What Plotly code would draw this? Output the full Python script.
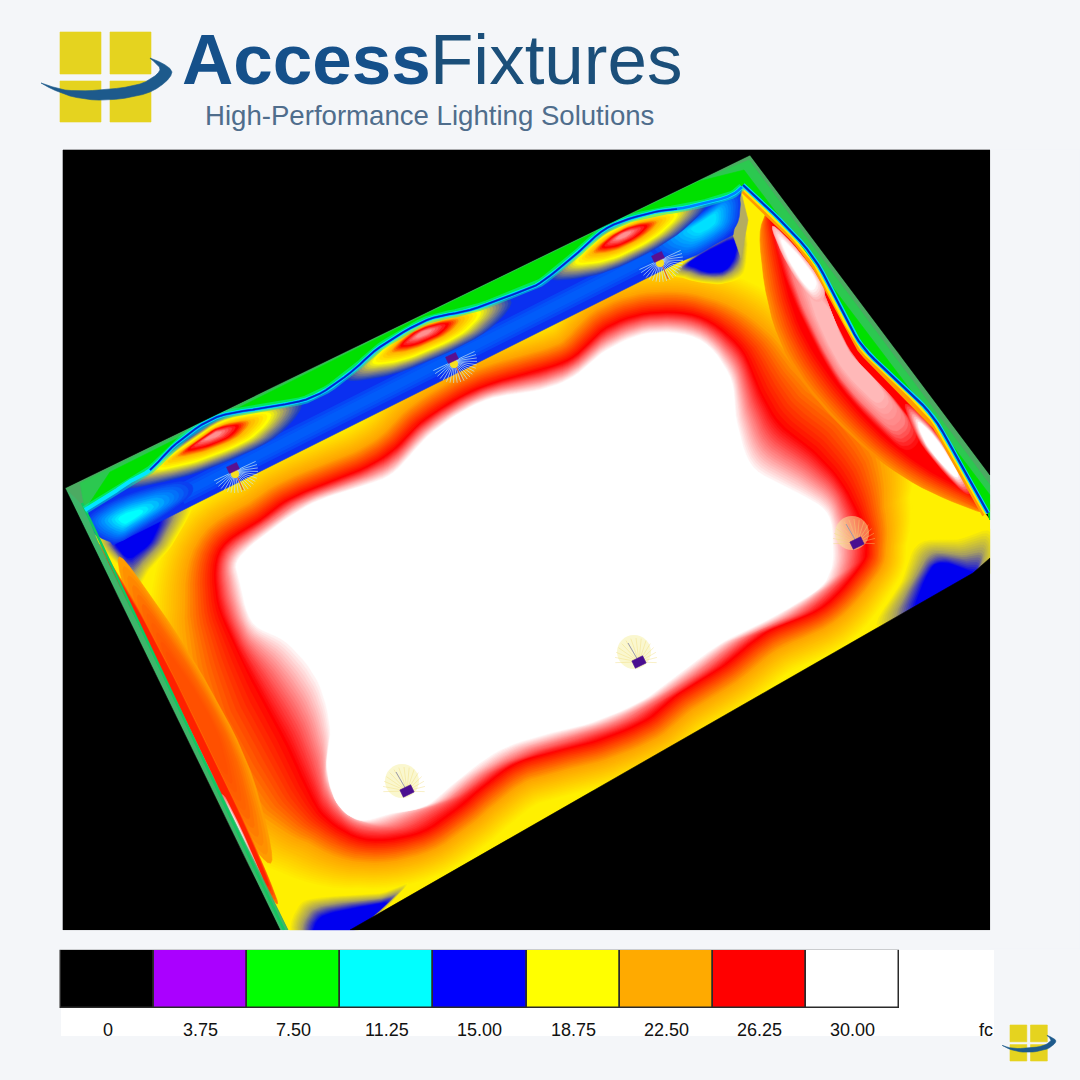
import numpy as np
import plotly.graph_objects as go

# ---- legend data
legend_values = [0, 3.75, 7.50, 11.25, 15.00, 18.75, 22.50, 26.25, 30.00]
legend_labels = ["0", "3.75", "7.50", "11.25", "15.00", "18.75", "22.50", "26.25", "30.00"]
legend_colors = ["#000000", "#aa00ff", "#00ff00", "#00ffff", "#0000ff", "#ffff00", "#ffaa00", "#ff0000", "#ffffff"]
legend_unit = "fc"

# ---- isolux contours (image pixel coordinates)
red_contour = [(217,600),(220,550),(260,520),(293,497),(360,470),(393,450),(420,423),(460,397),(493,383),(540,370),
               (573,357),(607,327),(650,313),(700,317),(740,347),(760,390),(780,423),(813,450),(840,480),(860,517),
               (867,547),(860,567),(823,607),(767,632),(725,665),(680,693),(647,720),(600,740),(560,750),(517,763),
               (483,787),(460,807),(420,833),(367,840),(327,820),(307,790),(287,747),(260,697),(237,650)]
white_contour = [(240,583),(238,560),(267,533),(313,503),(360,487),(393,473),(427,437),(460,413),(493,398),(540,390),
                 (573,377),(607,350),(650,333),(700,340),(730,377),(737,423),(753,467),(793,490),(827,513),(833,550),
                 (830,572),(817,590),(773,617),(723,642),(680,673),(643,700),(593,722),(543,735),(500,750),(460,778),
                 (427,805),(393,813),(360,820),(337,803),(327,767),(330,727),(317,680),(287,643),(253,623)]
orange_gap = [35,25,22,20,20,20,20,20,20,20,20,22,22,22,32,50,60,60,50,28,20,20,20,22,22,22,22,22,22,22,22,22,22,24,32,58,70,70,55]
yellow_gap = [70,52,48,45,45,45,45,42,42,42,42,45,48,50,65,110,130,130,95,55,40,40,45,47,47,47,47,47,47,47,47,47,47,50,72,105,150,150,115]

floor_outline = [(87,520),(113,545),(733,235),(741,192),(743,185),(990,520),(990,558),(973,573),(350,930),(288,930),(97,540)]
back_wave = [(85,510),(110,495),(127,483),(150,470),(177,443),(217,417),(270,407),(313,397),(350,373),(380,347),
             (427,320),(470,310),(517,293),(540,283),(573,257),(607,228),(650,213),(683,208),(727,197),(742,187)]
right_wave = [(743,185),(773,213),(813,257),(840,307),(863,347),(900,383),(933,417),(960,463),(988,513)]
lobes = [
    [(153,470),(185,445),(225,420),(273,412),(255,437),(210,458),(175,468)],
    [(370,363),(400,335),(440,317),(483,310),(465,333),(420,355),(390,364)],
    [(573,263),(600,238),(640,218),(680,212),(660,235),(620,257),(590,265)],
]
lobe_hot = [(213,435),(423,333),(623,235)]

fixtures_wall = [(233,468),(452,358),(658,257)]
fixtures_floor = [(857,543),(639,662),(407,791)]

PAGE = "#f4f6f9"
fig = go.Figure()


def catmull(pts, closed=True, n=6):
    p = np.array(pts, float)
    if closed:
        q = np.vstack([p[-1], p, p[0], p[1]])
    else:
        q = np.vstack([p[0], p, p[-1]])
    out = []
    for i in range(1, len(q) - 2):
        for t in np.linspace(0, 1, n, endpoint=False):
            a, b, c, d = q[i-1], q[i], q[i+1], q[i+2]
            out.append(0.5*((2*b)+(-a+c)*t+(2*a-5*b+4*c-d)*t*t+(-a+3*b-3*c+d)*t**3))
    if not closed:
        out.append(p[-1])
    return np.array(out)


def hex2(c):
    c = c.lstrip("#")
    return np.array([int(c[i:i+2], 16) for i in (0, 2, 4)], float)


def mix(a, b, t):
    v = hex2(a)*(1-t)+hex2(b)*t
    return "rgb(%d,%d,%d)" % tuple(v)


def poly(pts, color, lw=0.6):
    p = np.asarray(pts, float)
    x = list(p[:, 0])+[p[0, 0]]
    y = list(p[:, 1])+[p[0, 1]]
    fig.add_trace(go.Scatter(x=x, y=y, mode="lines", fill="toself", fillcolor=color,
                             line=dict(color=color, width=lw), hoverinfo="skip", showlegend=False))


def stroke(pts, color, w):
    p = np.asarray(pts, float)
    fig.add_trace(go.Scatter(x=p[:, 0], y=p[:, 1], mode="lines", line=dict(color=color, width=w),
                             hoverinfo="skip", showlegend=False))


def tween(a, b, c0, c1, steps):
    for t in np.linspace(0, 1, steps):
        poly(a*(1-t)+b*t, mix(c0, c1, t))


def soft(pts, stops, center=None):
    p = catmull(pts)
    c = p.mean(axis=0) if center is None else np.array(center, float)
    for s, col in stops:
        poly(c+(p-c)*s, col)


def gradient_stops(colors, scales, per=3):
    out = []
    for i in range(len(colors)-1):
        for t in np.linspace(0, 1, per, endpoint=False):
            out.append((scales[i]*(1-t)+scales[i+1]*t, mix(colors[i], colors[i+1], t)))
    out.append((scales[-1], colors[-1]))
    return out


def rotated_rect(cx, cy, w, h, deg):
    a = np.radians(deg)
    u = np.array([np.cos(a), np.sin(a)])
    v = np.array([-np.sin(a), np.cos(a)])
    c = np.array([cx, cy], float)
    return [c-u*w/2-v*h/2, c+u*w/2-v*h/2, c+u*w/2+v*h/2, c-u*w/2+v*h/2]


# ---- floor
poly(floor_outline, "#fff000")
R = catmull(red_contour)
W = catmull(white_contour)
n = len(R)
ti = np.arange(n)/n*len(red_contour)
idx = np.arange(len(red_contour)+1)
og = np.interp(ti, idx, orange_gap+orange_gap[:1])
yg = np.interp(ti, idx, yellow_gap+yellow_gap[:1])
tan = np.roll(R, -2, axis=0)-np.roll(R, 2, axis=0)
tan /= np.linalg.norm(tan, axis=1, keepdims=True)
nor = np.c_[tan[:, 1], -tan[:, 0]]
O = R+nor*og[:, None]
Y = R+nor*yg[:, None]
tween(Y, O, "#fff000", "#ffa500", 16)
tween(O, R, "#ffa500", "#ff0000", 14)
tween(R, W, "#ff0000", "#ffffff", 22)

# ---- floor corner patches
patches = [
    ([(100,530),(190,495),(175,540),(150,570),(137,590),(122,570)], [(118,540),(158,518),(152,540),(140,552),(130,558),(122,553)]),
    ([(675,270),(740,225),(745,270),(725,283),(700,282),(685,278)], [(690,262),(732,240),(735,255),(725,270),(708,272),(697,268)]),
    ([(878,628),(900,583),(917,543),(957,538),(992,530),(985,580)], [(915,612),(930,570),(945,563),(965,570),(975,575),(950,595)]),
    ([(293,935),(298,905),(320,897),(380,893),(407,885),(350,935)], [(315,935),(320,918),(345,910),(375,905),(385,905),(345,935)]),
]
for outer, inner in patches:
    a, b = catmull(outer), catmull(inner)
    m = a*0.5+b*0.5
    tween(a, m, "#fff000", "#a8a060", 9)
    tween(m, b, "#a8a060", "#0000f0", 10)
poly([(741,192),(733,235),(741,258),(748,220)], "#b4ac60")

# ---- right wall
rw = catmull(right_wave, closed=False)
red_edge = catmull([(768,208),(773,227),(793,310),(823,367),(873,427),(923,467),(970,493),(985,512)], closed=False)
orange_edge = catmull([(768,208),(760,240),(772,318),(803,382),(858,442),(912,482),(968,508),(985,512)], closed=False)
edge_poly = np.vstack([red_edge, rw[::-1]])
tween(np.vstack([orange_edge, rw[::-1]]), edge_poly, "#ff8c00", "#ff0000", 10)
pink_band = [(778,235),(815,275),(832,315),(855,358),(892,397),(915,430),(905,445),(885,432),(840,383),(805,320),(785,270)]
soft(pink_band, gradient_stops(["#ff1010", "#ff8080", "#ffb8b8"], [1.05, 0.85, 0.55], 5))
soft([(777,233),(800,255),(820,285),(812,295),(790,265)], gradient_stops(["#ffb0b0", "#ffffff"], [1.2, 0.8], 5))
soft([(913,415),(935,435),(962,478),(955,480),(925,445)], gradient_stops(["#ff3030", "#ffffff"], [1.3, 0.8], 7))
stroke(rw, "#ff9a00", 13)
stroke(rw, "#ffe800", 8)

# ---- left wall
soft([(118,560),(150,595),(205,680),(250,770),(272,860),(245,835),(195,750),(150,670)],
     gradient_stops(["#ff9c00", "#ff6800", "#ff5000"], [1.0, 0.7, 0.4], 5))
soft([(100,546),(129,607),(165,680),(200,752),(238,830),(267,890),(277,900),(250,835),(212,755),(178,685),(140,612),(112,565)],
     gradient_stops(["#ff7000", "#ff2000"], [1.0, 0.9], 4), center=(186,725))
soft([(145,640),(200,750),(215,785),(205,775),(150,660)], gradient_stops(["#ff3030", "#ffa0a0"], [1.2, 0.8], 4))
soft([(228,805),(258,870),(252,870),(226,820)], gradient_stops(["#ff8080", "#ffffff"], [1.2, 0.8], 4))
soft([(118,590),(140,630),(135,630),(115,590)], gradient_stops(["#ff8080", "#ffffff"], [1.2, 0.8], 4))

# ---- back wall
bw = catmull(back_wave, closed=False)
poly(np.vstack([bw, [[733,235],[113,545],[85,510]]]), "#0a30f0")
for w in (20, 14, 8):
    stroke([(180,495),(420,373),(700,232)], "rgba(0,110,255,0.35)", w)
soft([(90,522),(120,500),(175,485),(185,497),(145,525),(115,540)],
     gradient_stops(["#0a40f0", "#0090ff", "#00ffff"], [1.1, 0.7, 0.25], 5), center=(128,518))
soft([(655,245),(690,222),(732,195),(735,222),(715,242),(680,258)],
     gradient_stops(["#0a40f0", "#0090ff", "#00e0ff"], [1.1, 0.7, 0.3], 5), center=(707,222))
lobe_cols = ["#2040c0", "#9a9670", "#ffff00", "#ffb000", "#ff0000", "#ff9090"]
lobe_scale = [1.45, 1.2, 0.95, 0.62, 0.42, 0.14]
for lobe, hot in zip(lobes, lobe_hot):
    soft(lobe, gradient_stops(lobe_cols, lobe_scale, 5), center=hot)

# ---- green upper band and left edge
back_rev = bw[::-1]
rw_rev = rw[::-1]
for outer, col in (([(65,488),(750,155),(990,475),(990,520)], "#4caa62"),
                   ([(80,483),(400,326),(700,180),(749,160),(990,485),(990,520)], "#2cc850"),
                   ([(110,472),(400,327),(700,181),(744,170),(990,495),(990,520)], "#00e000")):
    poly(np.vstack([outer, rw_rev, back_rev]), col)
poly([(65,488),(85,508),(97,540),(288,930),(280,930)], "#3fb56a")
stroke([(82,503),(284,930)], "#10c860", 2.5)
stroke(bw, "rgba(0,240,190,0.5)", 8)
stroke(bw, "#00e8ff", 4)
stroke(bw[18:], "#0080ff", 2.5)
stroke(bw[18:102], "#0028c8", 1.6)
stroke(rw, "#00d8ff", 4.5)
stroke(rw, "#0030c0", 2.2)

# ---- black surroundings
poly([(990,558),(973,573),(350,930),(990,930)], "#000000")
poly([(63,488),(65,488),(280,930),(63,930)], "#000000")
poly([(63,150),(990,150),(990,475),(750,155),(65,488),(63,488)], "#000000")
poly([(0,930.5),(1080,930.5),(1080,949.5),(0,949.5)], PAGE)
poly([(990.5,150),(1080,150),(1080,949),(990.5,949)], PAGE)

# ---- luminaires
for cx, cy in fixtures_wall:
    for a in np.radians(np.linspace(-26, 154, 21)):
        stroke([(cx+2, cy+3), (cx+2+23*np.cos(a), cy+3+22*np.sin(a))], "#c4e6f2", 0.7)
    stroke([(cx+2, cy+3), (cx+10, cy+22)], "#e05030", 1)
    fig.add_trace(go.Scatter(x=[cx+2], y=[cy+6], mode="markers", marker=dict(size=8, color="#f8e020"),
                             hoverinfo="skip", showlegend=False))
    poly(rotated_rect(cx, cy, 11, 7, -25), "#5a1090")
for cx, cy in fixtures_floor:
    fig.add_trace(go.Scatter(x=[cx-5], y=[cy-10], mode="markers",
                             marker=dict(size=34, color="rgba(245,240,160,0.5)", line=dict(width=0)),
                             hoverinfo="skip", showlegend=False))
    for a in np.radians(np.linspace(170, 370, 15)):
        stroke([(cx, cy), (cx-3+21*np.cos(a), cy-3+21*np.sin(a))], "rgba(240,220,120,0.6)", 0.7)
    stroke([(cx, cy), (cx-11, cy-19)], "#9a9ab0", 1)
    poly(rotated_rect(cx, cy, 12, 8, -26), "#4a0f90")

# ---- colour legend
cell = 93.1
centers = [61+cell*(i+0.5) for i in range(len(legend_values))]
fig.add_trace(go.Bar(x=centers, y=[58]*len(centers), base=[950]*len(centers), width=[cell]*len(centers),
                     marker=dict(color=legend_colors, line=dict(color="#2a2a2a", width=1.5)),
                     hoverinfo="skip", showlegend=False))

shapes = [
    dict(type="rect", xref="x", yref="y", x0=63, x1=990, y0=150, y1=930, fillcolor="#000000", line=dict(width=0), layer="below"),
    dict(type="rect", xref="x", yref="y", x0=61, x1=994, y0=950, y1=1036, fillcolor="#ffffff", line=dict(width=0), layer="below"),
]
annotations = []
for cx, t in zip(centers, legend_labels):
    annotations.append(dict(x=cx, y=1030, text=t, xref="x", yref="y", showarrow=False, xanchor="center", yanchor="middle",
                            font=dict(family="Liberation Sans", size=18, color="#111111")))
annotations.append(dict(x=986, y=1030, text=legend_unit, xref="x", yref="y", showarrow=False, xanchor="center", yanchor="middle",
                        font=dict(family="Liberation Sans", size=18, color="#111111")))


# ---- logo
def logo(sx, sy, ox, oy):
    def T(pts):
        return [(ox+(x-60)*sx, oy+(y-32)*sy) for x, y in pts]
    for x0, x1 in ((60,101), (110,151)):
        for y0, y1 in ((32,74), (81,122)):
            poly(T([(x0,y0),(x1,y0),(x1,y1),(x0,y1)]), "#e5d31f")
    sw = catmull([(41,83),(70,96),(107,100),(150,92),(172,72),(150,58),(160,70),(140,84),(100,90),(65,90)], closed=True, n=5)
    poly(T(sw), "#1d5a8c")


logo(1, 1, 60, 32)
logo(0.41, 0.40, 1010, 1025)
annotations += [
    dict(x=180, y=59, text="<b>Access</b>", xref="x", yref="y", showarrow=False, xanchor="left", yanchor="middle",
         font=dict(family="Liberation Sans", size=71, color="#15508a")),
    dict(x=428, y=59, text="Fixtures", xref="x", yref="y", showarrow=False, xanchor="left", yanchor="middle",
         font=dict(family="Liberation Sans", size=71, color="#1b4f7a")),
    dict(x=203, y=115, text="High-Performance Lighting Solutions", xref="x", yref="y", showarrow=False, xanchor="left", yanchor="middle",
         font=dict(family="Liberation Sans", size=27.6, color="#4f6d8c")),
]

fig.update_layout(
    width=1080, height=1080, margin=dict(l=0, r=0, t=0, b=0), paper_bgcolor=PAGE, plot_bgcolor=PAGE,
    xaxis=dict(range=[0,1080], visible=False, fixedrange=True),
    yaxis=dict(range=[1080,0], visible=False, fixedrange=True),
    shapes=shapes, annotations=annotations, showlegend=False, bargap=0,
)
fig.write_html("out.html", config={"displayModeBar": False},
               post_script="document.body.style.margin='0';document.documentElement.style.overflow='hidden';")
